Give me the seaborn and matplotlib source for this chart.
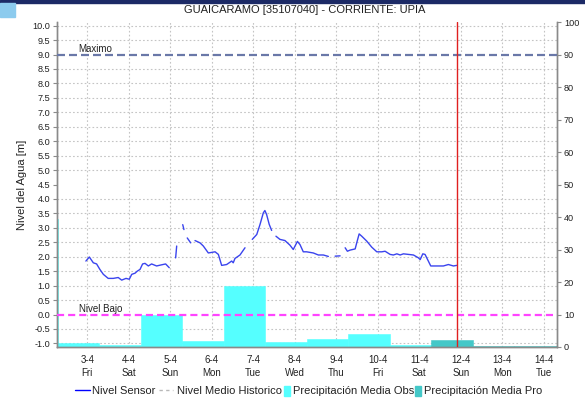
import numpy as np
import pandas as pd
import matplotlib
matplotlib.use("Agg")
import matplotlib.pyplot as plt
import matplotlib.dates as mdates
import matplotlib.transforms as mtransforms
from matplotlib.lines import Line2D
from matplotlib.patches import Patch, Rectangle
import seaborn as sns

# ---------------------------------------------------------------- data
title = "GUAICARAMO [35107040] - CORRIENTE: UPIA"
t0 = pd.Timestamp("2020-04-03 00:00")

# water level from the sensor, hours after t0 (None marks a gap in the record)
sensor_hours = [
    -0.8, 1.2, 3.5, 5.4, 7.3, 9.3, 12.1, 15.0, 17.9, 19.9, 22.4, 24.3, 25.7, 27.6,
    28.9, 30.5, 32.0, 33.4, 35.3, 37.2, 40.1, 43.0, 45.3, 47.4, None,
    51.1, 51.7, None,
    55.2, 55.9, None,
    57.8, 59.8, None,
    62.3, 65.2, 67.1, 70.0, 73.9, 75.8, 77.7, 80.6, 83.5, 84.4, 85.4, 88.3, 91.2, None,
    95.4, 98.0, 99.9, 101.8, 102.7, 103.7, 105.2, 106.6, None,
    109.1, 111.4, 114.3, 117.2, 119.1, 121.5, 123.0, 124.9, 126.8, 130.7, 133.6,
    136.5, 139.4, None,
    143.3, 146.2, None,
    149.1, 150.4, 152.0, 154.9, 155.8, 157.2, 158.7, 161.6, 164.5, 167.4, 170.3,
    172.2, 175.1, 177.0, 179.0, 180.9, 182.8, 185.7, 188.6, 191.5, 192.5, 194.0,
    195.3, 197.2, 198.6, 202.1, 205.9, 208.8, 211.7, 213.6,
]
sensor_level = [
    1.85, 1.99, 1.79, 1.75, 1.56, 1.39, 1.25, 1.25, 1.28, 1.19, 1.25, 1.22, 1.39, 1.43,
    1.50, 1.56, 1.75, 1.77, 1.68, 1.75, 1.68, 1.72, 1.75, 1.62, None,
    1.96, 2.37, None,
    3.11, 2.94, None,
    2.65, 2.48, None,
    2.56, 2.48, 2.37, 2.13, 2.17, 2.08, 1.70, 1.73, 1.85, 1.79, 1.94, 2.06, 2.31, None,
    2.60, 2.77, 3.12, 3.52, 3.60, 3.46, 3.12, 2.91, None,
    2.71, 2.60, 2.56, 2.40, 2.25, 2.53, 2.42, 2.17, 2.17, 2.13, 2.06,
    2.06, 2.01, None,
    2.02, 2.03, None,
    2.31, 2.19, 2.23, 2.27, 2.48, 2.79, 2.71, 2.54, 2.33, 2.17, 2.17,
    2.19, 2.08, 2.06, 2.10, 2.06, 2.10, 2.08, 2.06, 1.96, 1.90, 2.10,
    2.08, 1.85, 1.68, 1.68, 1.68, 1.73, 1.68, 1.70,
]

# daily rainfall (07:00 to 07:00), observed and forecast, in mm
obs_days = ["2020-04-01", "2020-04-02", "2020-04-03", "2020-04-04", "2020-04-05",
            "2020-04-06", "2020-04-07", "2020-04-08", "2020-04-09", "2020-04-10"]
obs_mm = [39.5, 1.1, 0.6, 10.0, 1.8, 18.9, 1.5, 2.5, 4.1, 0.5]
pro_days = ["2020-04-11", "2020-04-12", "2020-04-13", "2020-04-14"]
pro_mm = [2.3, 0.4, 0.4, 0.4]

nivel_maximo = 9.0
nivel_bajo = 0.0
now = "2020-04-11 22:00"

level_ticks = np.arange(-1.0, 10.01, 0.5)
rain_ticks = np.arange(0, 101, 10)

# ---------------------------------------------------------------- style
sns.set_style("white")
plt.rcParams["font.family"] = ["Liberation Sans", "DejaVu Sans"]

SENSOR = "#3a44ee"
OBS = "#55ffff"
PRO = "#44c8c8"
GRID = "#c4c4c4"
SPINE = "#8a8a8a"
TXT = "#222222"

W, H = 585, 403
fig = plt.figure(figsize=(W / 100, H / 100), dpi=100)
fig.patch.set_facecolor("white")

# page banner remnants along the top edge
fig.patches.append(Rectangle((0, 1 - 2.5 / H), 1, 2.5 / H, transform=fig.transFigure,
                             color="#1c2a66", zorder=0))
fig.patches.append(Rectangle((0, 1 - 17 / H), 15 / W, 14 / H, transform=fig.transFigure,
                             color="#8ccbee", zorder=0))

ax = fig.add_axes([57 / W, 1 - 347 / H, 500 / W, 325 / H])
ax2 = ax.twinx()
ax.set_zorder(ax2.get_zorder() + 1)
ax.patch.set_visible(False)

x_lo = t0 - pd.Timedelta(hours=17.5)
x_hi = t0 + pd.Timedelta(hours=271.6)
L0, L1 = -1.125, 10.125
R0, R1 = 0, 100

# ---------------------------------------------------------------- rainfall bars (right axis)
obs_start = pd.to_datetime(obs_days) + pd.Timedelta(hours=7)
pro_start = pd.to_datetime(pro_days) + pd.Timedelta(hours=7)
ax2.bar(obs_start, obs_mm, width=1.0, align="edge", color=OBS, edgecolor=OBS,
        linewidth=0.4, zorder=2)
ax2.bar(pro_start, pro_mm, width=1.0, align="edge", color=PRO, edgecolor=PRO,
        linewidth=0.4, zorder=2)
ax2.set_ylim(R0, R1)
ax2.set_yticks(rain_ticks)
ax2.set_yticklabels([f"{v:d}" for v in rain_ticks])

# grid lives on the back axes so the bars cover it
def level_to_rain(v):
    return (np.asarray(v) - L0) / (L1 - L0) * (R1 - R0) + R0

ax2.set_yticks(level_to_rain(level_ticks), minor=True)
ax2.set_axisbelow(True)
ax2.xaxis.set_visible(True)
ax2.tick_params(axis="x", which="both", bottom=False, top=False,
                labelbottom=False, labeltop=False)
ax2.grid(axis="y", which="minor", color=GRID, lw=0.8, ls=(0, (1.5, 2.0)))
ax2.grid(axis="y", which="major", visible=False)
ax2.grid(axis="x", which="major", color=GRID, lw=0.8, ls=(0, (1.5, 2.0)))
ax2.tick_params(axis="y", which="minor", length=0)
ax2.tick_params(axis="y", which="major", length=3, width=0.8, color=SPINE,
                labelsize=6.6, labelcolor=TXT, pad=2)

# ---------------------------------------------------------------- water level (left axis)
lvl = np.array([np.nan if v is None else v for v in sensor_level], dtype=float)
hrs = np.array([np.nan if v is None else v for v in sensor_hours], dtype=float)
segment = np.cumsum(np.isnan(lvl))
df = pd.DataFrame({"time": t0 + pd.to_timedelta(hrs, unit="h"), "level": lvl,
                   "segment": segment}).dropna()
sns.lineplot(data=df, x="time", y="level", units="segment", estimator=None,
             sort=False, color=SENSOR, lw=1.0, ax=ax, legend=False, zorder=5)

ax.axhline(nivel_maximo, color="#6a78a8", lw=1.6, ls=(0, (3.6, 1.8)), zorder=4)
ax.axhline(nivel_bajo, color="#ff44ff", lw=1.6, ls=(0, (3.2, 1.8)), zorder=4)
ax.axvline(pd.Timestamp(now), color="#e02020", lw=1.0, zorder=6)

lab_tr = mtransforms.blended_transform_factory(ax.transAxes, ax.transData)
ax.annotate("Maximo", xy=(0.042, nivel_maximo), xycoords=lab_tr, xytext=(0, 1.6),
            textcoords="offset points", va="baseline", ha="left", fontsize=7, color=TXT)
ax.annotate("Nivel Bajo", xy=(0.044, nivel_bajo), xycoords=lab_tr, xytext=(0, 1.8),
            textcoords="offset points", va="baseline", ha="left", fontsize=7, color=TXT)

ax.set_xlim(x_lo, x_hi)
ax.set_ylim(L0, L1)
ax.set_yticks(level_ticks)
ax.set_yticklabels([f"{v:.1f}" for v in level_ticks])
ax.xaxis.set_major_locator(mdates.DayLocator())
ax.xaxis.set_major_formatter(mdates.DateFormatter("%-d-%-m\n%a"))
ax.xaxis.set_minor_locator(mdates.HourLocator())
ax.set_xlabel("")
ax.set_ylabel("Nivel del Agua [m]", fontsize=8, color=TXT)
ax.yaxis.set_label_coords(-0.06, 0.5)

ax.tick_params(axis="y", length=3, width=0.8, color=SPINE, labelsize=6.6,
               labelcolor=TXT, pad=2)
ax.tick_params(axis="x", which="major", length=3, width=0.8, color=SPINE,
               labelsize=7, labelcolor=TXT, pad=3)
ax.tick_params(axis="x", which="minor", length=1.5, width=0.6, color=SPINE)
for lab in ax.get_xticklabels():
    lab.set_linespacing(1.35)

for a in (ax, ax2):
    a.spines["top"].set_visible(False)
    for s in ("left", "right", "bottom"):
        a.spines[s].set_color(SPINE)
        a.spines[s].set_linewidth(1.0)

# ---------------------------------------------------------------- titles and legend
fig.text(305 / W, 1 - 10 / H, title, ha="center", va="center", fontsize=8, color=TXT)
fig.text(590.5 / W, 184 / H, "Precipitación [mm]", ha="center", va="center",
         rotation=90, fontsize=8, color=TXT)

fs = 8
em = fs * 100 / 72
legend_y = 1 - 391 / H
items = [
    (Line2D([], [], color="#0000ff", lw=1.0), "Nivel Sensor", 75, 15, 2, 0.7),
    (Line2D([], [], color="#b8b8b8", lw=1.0, ls=(0, (2.4, 2.4))), "Nivel Medio Historico",
     159, 14, 4, 0.7),
    (Patch(facecolor=OBS, edgecolor=OBS), "Precipitación Media Obs", 284, 6, 2.7, 1.0),
    (Patch(facecolor=PRO, edgecolor=PRO), "Precipitación Media Pro", 415, 6, 3, 1.0),
]
for handle, label, x0, hl, pad, hh in items:
    fig.legend([handle], [label], loc="center left", bbox_to_anchor=(x0 / W, legend_y),
               frameon=False, fontsize=fs, handlelength=hl / em, handletextpad=pad / em,
               handleheight=hh, borderpad=0, borderaxespad=0, labelcolor=TXT)

fig.savefig("out.png", dpi=100)
